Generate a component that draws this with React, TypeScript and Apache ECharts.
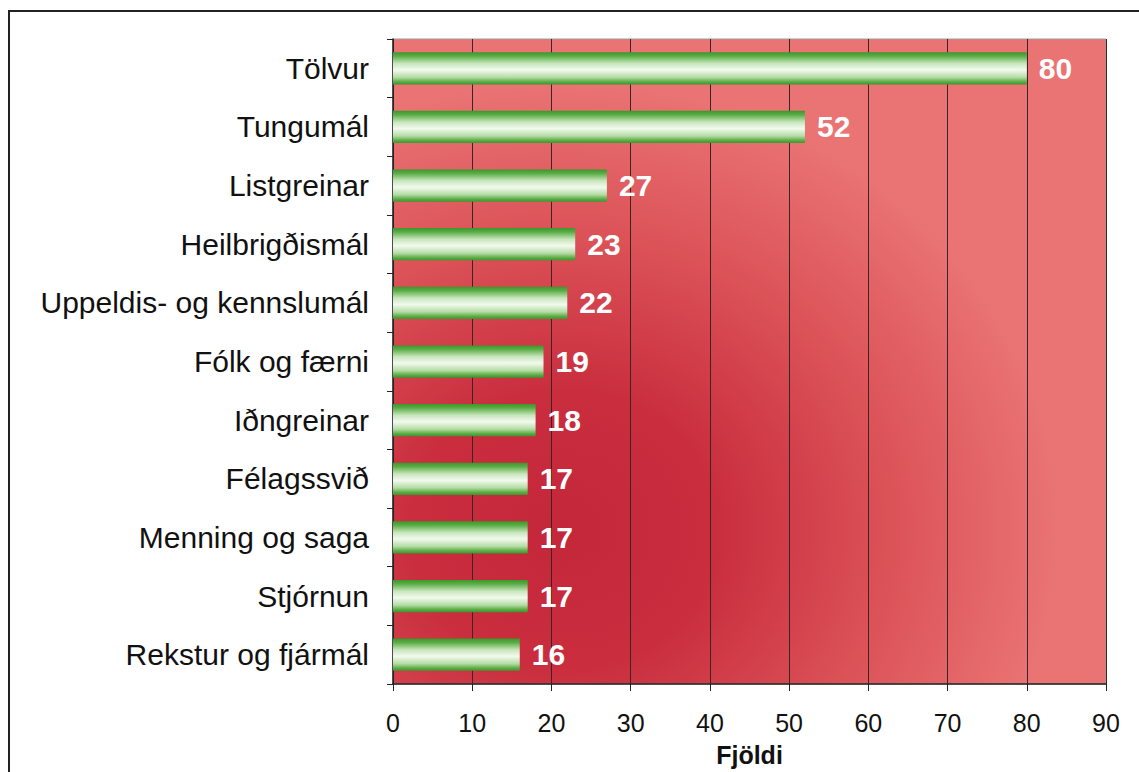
import React, { useEffect, useRef } from "react";
import * as echarts from "echarts";

const categories = [
  "Tölvur",
  "Tungumál",
  "Listgreinar",
  "Heilbrigðismál",
  "Uppeldis- og kennslumál",
  "Fólk og færni",
  "Iðngreinar",
  "Félagssvið",
  "Menning og saga",
  "Stjórnun",
  "Rekstur og fjármál",
];
const values = [80, 52, 27, 23, 22, 19, 18, 17, 17, 17, 16];
const axisMin = 0;
const axisMax = 90;
const axisInterval = 10;
const axisName = "Fjöldi";

export default function App() {
  const ref = useRef<HTMLDivElement>(null);
  useEffect(() => {
    if (!ref.current) return;
    const chart = echarts.init(ref.current, undefined, { renderer: "svg" });
    const font = "'Liberation Sans', Arial, sans-serif";
    chart.setOption({
      animation: false,
      backgroundColor: "#ffffff",
      textStyle: { fontFamily: font },
      graphic: [
        {
          type: "rect",
          shape: { x: 9, y: 11, width: 1200, height: 800 },
          style: { fill: "none", stroke: "#222", lineWidth: 2 },
          z: -10,
        },
      ],
      grid: {
        left: 393,
        right: 33,
        top: 39,
        bottom: 88,
        show: true,
        borderColor: "#9a9a9a",
        borderWidth: 1,
        backgroundColor: new echarts.graphic.RadialGradient(0.24, 0.76, 0.7, [
          { offset: 0, color: "#c4273a" },
          { offset: 0.3, color: "#c92d3e" },
          { offset: 0.65, color: "#db5257" },
          { offset: 1, color: "#ea7474" },
        ]),
      },
      xAxis: {
        type: "value",
        min: axisMin,
        max: axisMax,
        interval: axisInterval,
        name: axisName,
        nameLocation: "middle",
        nameGap: 58,
        nameTextStyle: { fontSize: 25, fontWeight: "bold", color: "#111", fontFamily: font },
        axisLine: { show: true, lineStyle: { color: "#222", width: 1.5 } },
        axisTick: { show: true, length: 7, lineStyle: { color: "#222" } },
        axisLabel: { fontSize: 25, color: "#111", margin: 26, fontFamily: font },
        splitLine: { show: true, lineStyle: { color: "#3a2424", width: 1 } },
      },
      yAxis: {
        type: "category",
        data: categories,
        inverse: true,
        axisLine: { show: true, lineStyle: { color: "#222", width: 1.5 } },
        axisTick: { show: true, inside: false, length: 6, lineStyle: { color: "#222" } },
        axisLabel: { fontSize: 30, color: "#111", margin: 24, fontFamily: font },
        splitLine: { show: false },
      },
      series: [
        {
          type: "bar",
          data: values,
          barCategoryGap: "45%",
          itemStyle: {
            color: new echarts.graphic.LinearGradient(0, 0, 0, 1, [
              { offset: 0, color: "#3a982a" },
              { offset: 0.12, color: "#5aac46" },
              { offset: 0.35, color: "#c8e6bc" },
              { offset: 0.55, color: "#f2faee" },
              { offset: 0.78, color: "#b4dca4" },
              { offset: 0.92, color: "#5aac46" },
              { offset: 1, color: "#3a982a" },
            ]),
          },
          label: {
            show: true,
            position: "right",
            distance: 12,
            color: "#ffffff",
            fontSize: 30,
            fontWeight: "bold",
            fontFamily: font,
          },
        },
      ],
    });
    return () => chart.dispose();
  }, []);
  return <div ref={ref} style={{ width: 1139, height: 772, position: "fixed", left: 0, top: 0 }} />;
}
